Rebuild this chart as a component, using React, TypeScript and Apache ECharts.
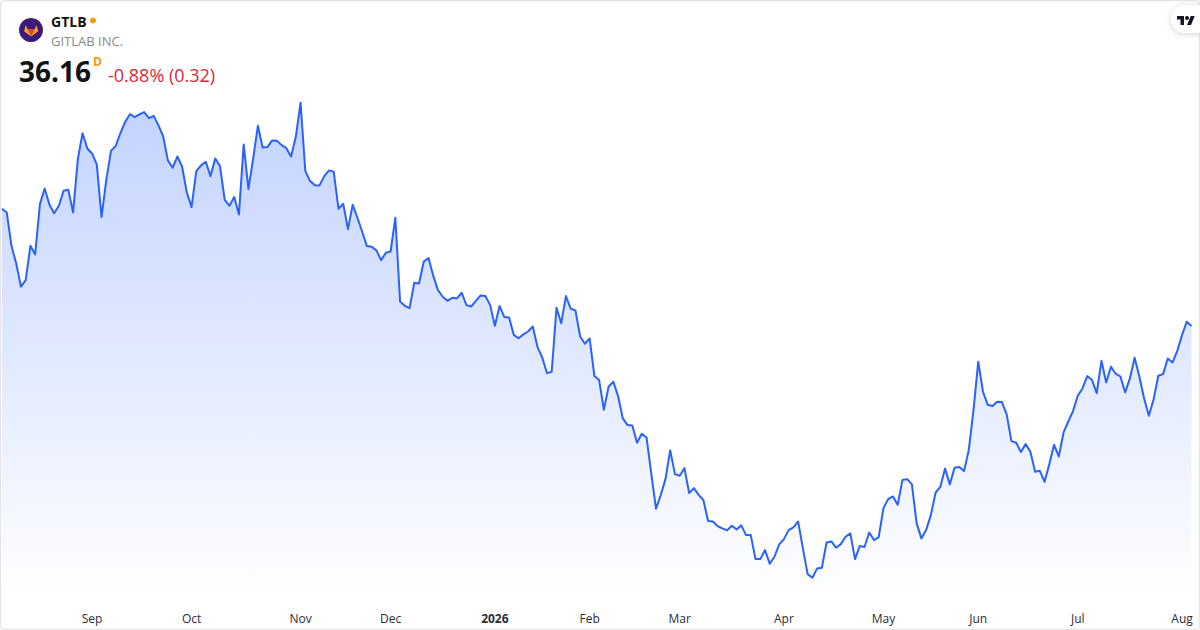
import React, { useEffect, useRef } from "react";
import * as echarts from "echarts";

const closePrices: number[] = [
  44.61, 44.34, 41.94, 40.67, 38.99, 39.47, 41.94, 41.32, 44.94, 46.07, 44.92, 44.29, 44.82, 45.9, 45.97, 44.34,
  48.18, 50.05, 48.95, 48.59, 47.8, 44.01, 46.67, 48.78, 49.14, 50.08, 50.87, 51.42, 51.21, 51.4, 51.57, 51.13,
  51.3, 50.63, 49.84, 48.09, 47.56, 48.37, 47.65, 45.78, 44.73, 47.32, 47.73, 47.99, 46.96, 48.23, 47.68, 45.25,
  44.82, 45.45, 44.2, 49.24, 46.02, 48.23, 50.58, 49.02, 49.05, 49.53, 49.5, 49.19, 48.97, 48.37, 49.79, 52.26,
  47.34, 46.6, 46.31, 46.29, 46.96, 47.37, 47.27, 44.61, 44.97, 43.14, 44.89, 43.96, 42.95, 41.92, 41.87, 41.61,
  40.91, 41.44, 41.53, 43.96, 37.93, 37.62, 37.45, 39.28, 39.23, 40.81, 41.05, 39.78, 38.75, 38.27, 37.98, 38.2,
  38.15, 38.56, 37.67, 37.57, 37.98, 38.37, 38.32, 37.67, 36.18, 37.6, 36.81, 36.78, 35.51, 35.29, 35.56, 35.77,
  36.13, 34.65, 33.9, 32.77, 32.87, 37.48, 36.37, 38.32, 37.41, 37.29, 35.41, 34.89, 35.27, 32.56, 32.27,
  30.13, 31.79, 32.15, 31.12, 29.51, 29.03, 29.01, 27.76, 28.41, 28.14, 25.55, 23.01, 23.99, 25.14, 27.21, 25.5,
  25.38, 25.93, 24.13, 24.49, 24.01, 23.63, 22.12, 22.09, 21.76, 21.59, 21.45, 21.78, 21.52, 21.81, 21.11, 21.11,
  19.38, 19.38, 20.03, 19.05, 19.55, 20.44, 20.82, 21.47, 21.66, 22.09, 20.15, 18.3, 18.04, 18.71, 18.76, 20.58,
  20.65, 20.2, 20.46, 20.99, 21.23, 19.38, 20.32, 20.25, 21.3, 20.75, 20.97, 23.05, 23.7,
  23.89, 23.29, 25.07, 25.14, 24.76, 21.95, 20.87, 21.47, 22.55, 24.16, 24.59, 25.91, 24.76, 25.96, 26.01, 25.72,
  27.23, 30.11, 33.59, 31.43, 30.49, 30.4, 30.71, 30.69, 29.8, 27.88, 27.76, 27.09, 27.66, 27.11, 25.67, 25.74,
  24.95, 26.22, 27.61, 26.77, 28.5, 29.29, 30.04, 31.14, 31.67, 32.56, 32.27, 31.33, 33.66, 32.1, 33.23, 32.73,
  32.53, 31.38, 32.39, 33.88, 32.51, 30.95, 29.7, 30.88, 32.58, 32.7, 33.83, 33.54, 34.38, 35.51, 36.47, 36.16,
];

const tickLabels = ["Sep", "Oct", "Nov", "Dec", "2026", "Feb", "Mar", "Apr", "May", "Jun", "Jul", "Aug"];
const tickIndexes = [19, 40, 63, 82, 104, 124, 143, 165, 186, 206, 227, 249];

const categories = closePrices.map((_, i) => {
  const at = tickIndexes.indexOf(i);
  return at >= 0 ? tickLabels[at] : "";
});

const FONT = '"Open Sans", sans-serif';

echarts.graphic.registerShape(
  "tvLogo",
  echarts.graphic.extendPath(
    "M14 22H7V11H0V4h14v18zM28 22h-8l7.5-18h8L28 22zM24 8a4 4 0 1 1-8 0 4 4 0 0 1 8 0z",
    {}
  )
);
echarts.graphic.registerShape(
  "foxOuter",
  echarts.graphic.extendPath("M12 21L2.2 13.6L4.6 5L7.2 11.2H16.8L19.4 5L21.8 13.6Z", {})
);
echarts.graphic.registerShape(
  "foxInner",
  echarts.graphic.extendPath("M12 21L7.2 11.2H16.8Z", {})
);

export default function App() {
  const ref = useRef<HTMLDivElement>(null);
  useEffect(() => {
    const chart = echarts.init(ref.current!, undefined, { renderer: "svg" });
    chart.setOption({
      animation: false,
      backgroundColor: "#ffffff",
      grid: { left: 2, right: 8.5, top: 102.5, bottom: 29.5, containLabel: false },
      xAxis: {
        type: "category",
        data: categories,
        boundaryGap: false,
        axisLine: { show: false },
        axisTick: { show: false },
        splitLine: { show: false },
        axisLabel: {
          interval: (_: number, v: string) => v !== "",
          margin: 11.5,
          fontFamily: FONT,
          fontSize: 12,
          color: "#2a2e39",
          formatter: (v: string) => (v === "2026" ? `{b|${v}}` : v),
          rich: { b: { fontFamily: FONT, fontSize: 12, fontWeight: 700, color: "#2a2e39" } },
        },
      },
      yAxis: { type: "value", min: 16.4, max: 52.26, show: false, splitLine: { show: false } },
      series: [
        {
          type: "line",
          data: closePrices,
          showSymbol: false,
          smooth: false,
          lineStyle: { color: "#2962ff", width: 2, join: "round" },
          itemStyle: { color: "#2962ff" },
          areaStyle: {
            opacity: 1,
            color: new echarts.graphic.LinearGradient(0, 0, 0, 1, [
              { offset: 0, color: "rgba(41,98,255,0.28)" },
              { offset: 1, color: "rgba(41,98,255,0)" },
            ]),
          },
        },
      ],
      graphic: [
        { type: "rect", shape: { x: 0.5, y: 0.5, width: 1199, height: 629, r: 4 }, style: { fill: "none", stroke: "#e6e6e6", lineWidth: 1.5 }, z: 10 },
        { type: "circle", shape: { cx: 31, cy: 30, r: 12 }, style: { fill: "#3c1a7a" }, z: 10 },
        { type: "foxOuter", x: 22.5, y: 21.5, scaleX: 0.72, scaleY: 0.72, style: { fill: "#fca326" }, z: 11 },
        { type: "foxInner", x: 22.5, y: 21.5, scaleX: 0.72, scaleY: 0.72, style: { fill: "#e24329" }, z: 12 },
        { type: "text", x: 51, y: 21, style: { text: "GTLB", fontFamily: FONT, fontSize: 14, fontWeight: 700, fill: "#131313", textVerticalAlign: "middle", textAlign: "left" }, z: 10 },
        { type: "circle", shape: { cx: 93, cy: 20.5, r: 3 }, style: { fill: "#ff9800" }, z: 10 },
        { type: "text", x: 51, y: 41, style: { text: "GITLAB INC.", fontFamily: FONT, fontSize: 13, fill: "#8a8a8a", textVerticalAlign: "middle", textAlign: "left" }, z: 10 },
        { type: "text", x: 19, y: 71, style: { text: "36.16", fontFamily: FONT, fontSize: 28, fontWeight: 700, fill: "#131313", textVerticalAlign: "middle", textAlign: "left" }, z: 10 },
        { type: "text", x: 93, y: 61, style: { text: "D", fontFamily: FONT, fontSize: 12, fontWeight: 700, fill: "#ff9800", textVerticalAlign: "middle", textAlign: "left" }, z: 10 },
        { type: "text", x: 108, y: 74.5, style: { text: "-0.88% (0.32)", fontFamily: FONT, fontSize: 18, fill: "#d8283c", textVerticalAlign: "middle", textAlign: "left" }, z: 10 },
        { type: "rect", shape: { x: 1171, y: 5, width: 40, height: 28, r: 14 }, style: { fill: "#ffffff", shadowBlur: 6, shadowColor: "rgba(0,0,0,0.18)", shadowOffsetY: 1 }, z: 10 },
        { type: "tvLogo", x: 1177, y: 14, scaleX: 0.5, scaleY: 0.5, style: { fill: "#131722" }, z: 11 },
      ],
    });
    return () => chart.dispose();
  }, []);
  return <div ref={ref} style={{ position: "fixed", left: 0, top: 0, width: 1200, height: 630 }} />;
}
